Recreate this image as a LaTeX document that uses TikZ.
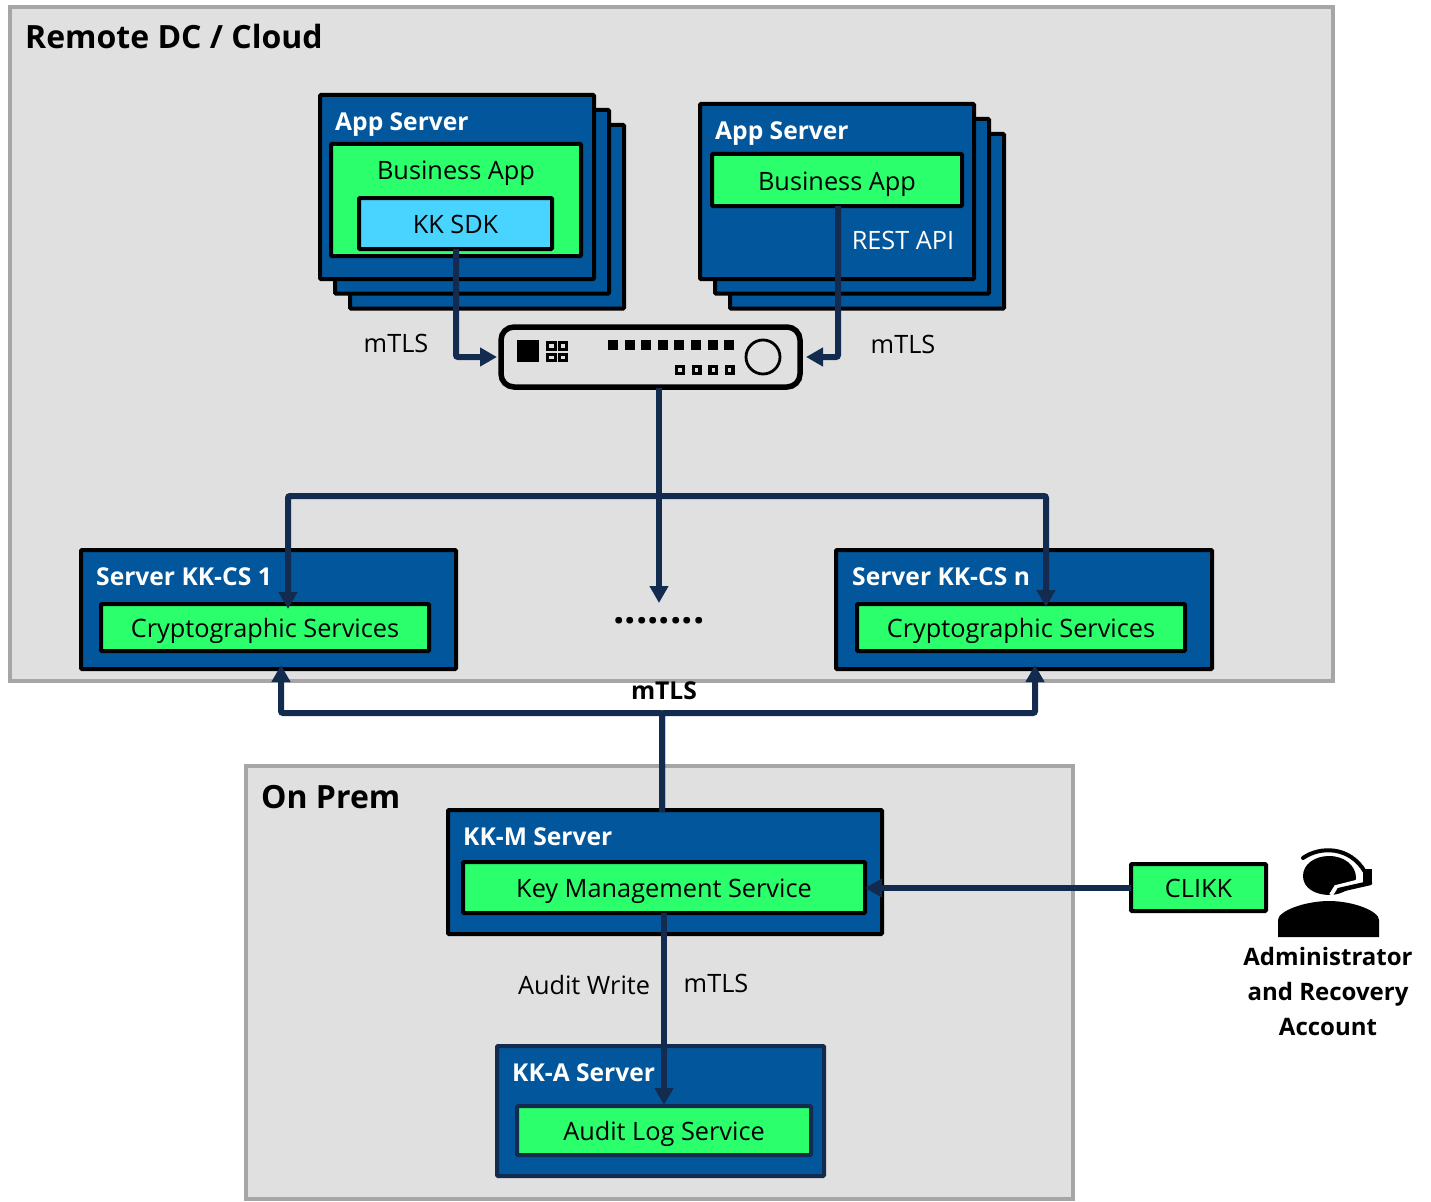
\documentclass[tikz,border=0pt]{standalone}
\usepackage{fontspec}
\setmainfont{Open Sans}
\usetikzlibrary{arrows.meta}
\definecolor{panel}{HTML}{E0E0E0}
\definecolor{panelb}{HTML}{A6A6A6}
\definecolor{srvblue}{HTML}{02569B}
\definecolor{appgreen}{HTML}{2BFF6C}
\definecolor{sdkblue}{HTML}{48D4FF}
\definecolor{navy}{HTML}{132B4E}
\newcommand{\fs}[1]{\fontsize{#1}{#1}\selectfont}
\newcommand{\bx}[7]{%
  \pgfmathsetmacro\cxx{(#3+#5)/2}\pgfmathsetmacro\cyy{(#4+#6)/2}%
  \pgfmathsetmacro\wdd{#5-#3}\pgfmathsetmacro\htt{#6-#4}%
  \node[#2,minimum width=\wdd pt,minimum height=\htt pt] (#1) at (\cxx,\cyy) {#7};}
\tikzset{
  x=1pt,y=-1pt,
  base/.style={inner sep=0pt,outer sep=0pt,rectangle,rounded corners=1pt,line width=4pt,draw=black},
  panelbox/.style={base,draw=panelb,fill=panel,line width=3.5pt,rounded corners=0pt},
  srv/.style={base,fill=srvblue},
  boxtext/.style={font=\fs{25.3},text height=20pt,text depth=0pt},
  app/.style={base,fill=appgreen,boxtext},
  sdk/.style={base,fill=sdkblue,boxtext},
  hdr/.style={anchor=base west,inner sep=0pt,text=white,font=\fs{24.6}\bfseries},
  title/.style={anchor=base west,inner sep=0pt,font=\fs{32}\bfseries},
  lbl/.style={anchor=base,inner sep=0pt,font=\fs{25.3}},
  wire/.style={draw=navy,line width=6pt,rounded corners=2pt},
  arrow/.style={wire,-{Triangle[length=17pt,width=18pt]}},
}
\begin{document}
\begin{tikzpicture}
\useasboundingbox (0,0) rectangle (1431,1201);
\bx{remote}{panelbox}{10}{7}{1333}{681}{}
\bx{onprem}{panelbox}{246}{766}{1073}{1199}{}
\node[title] (remotet) at (25,49) {Remote DC / Cloud};
\node[title] (onpremt) at (261,808) {On Prem};
% app server 1
\bx{asA3}{srv}{350}{125}{624}{308.5}{}
\bx{asA2}{srv}{335}{110}{609}{293.5}{}
\bx{asA1}{srv}{320}{95}{594}{279}{}
\node[hdr] (asAt) at (335,131) {App Server};
\bx{baA}{base,fill=appgreen}{331}{144}{581}{256}{}
\node[lbl] (baAt) at (456,179) {Business App};
\bx{sdkA}{sdk}{359}{198}{552}{249}{KK SDK}
% app server 2
\bx{asB3}{srv}{730}{134}{1004}{308.5}{}
\bx{asB2}{srv}{715}{119}{989}{293.5}{}
\bx{asB1}{srv}{700}{104}{974}{279}{}
\node[hdr] (asBt) at (715,140) {App Server};
\bx{baB}{app}{712}{154}{962}{206}{Business App}
\node[lbl,text=white] (rest) at (903,249) {REST API};
% hub
\bx{hub}{base,fill=panel,rounded corners=13pt,line width=5.5pt}{501}{327}{800}{387}{}
\fill (517,340) rectangle (539,362);
\foreach \x in {546,557.5}\foreach \y in {341,352.5}
  \draw[line width=3pt] (\x+1.5,\y+1.5) rectangle (\x+9,\y+8);
\foreach \i in {0,...,7} \fill (608+16.6*\i,340) rectangle ++(10,10);
\foreach \i in {0,...,3} \draw[line width=3.4pt] (676.7+16.6*\i,366.7) rectangle ++(6.6,6.6);
\draw[line width=2.8pt] (763,357) circle (17);
% CS servers
\bx{csA}{srv}{81}{550}{456}{669}{}
\node[hdr] (csAt) at (96,585) {Server KK-CS 1};
\bx{cryA}{app}{101}{604}{429}{651}{Cryptographic Services}
\bx{csB}{srv}{836}{550}{1212}{669}{}
\node[hdr] (csBt) at (852,585) {Server KK-CS n};
\bx{cryB}{app}{857}{604}{1185}{651}{Cryptographic Services}
\node[inner sep=0pt,anchor=base,font=\fs{40}\bfseries] (dots) at (659,623) {........};
% on prem servers
\bx{kkm}{srv}{448}{810}{882}{934}{}
\node[hdr] (kkmt) at (463,845) {KK-M Server};
\bx{kms}{app}{463}{862}{865}{913}{Key Management Service}
\bx{kka}{base,fill=srvblue,draw=navy}{497}{1046}{824}{1176}{}
\node[hdr] (kkat) at (512,1081) {KK-A Server};
\bx{als}{base,fill=appgreen,draw=navy,boxtext}{517}{1106}{811}{1155}{Audit Log Service}
\bx{clikk}{app}{1131}{864}{1266}{911}{CLIKK}
% labels
\node[lbl] (m1) at (396,352) {mTLS};
\node[lbl] (m2) at (903,353) {mTLS};
\node[lbl,font=\fs{24.6}\bfseries] (m3) at (664,699) {mTLS};
\node[lbl] (aw) at (584,994) {Audit Write};
\node[lbl] (m4) at (716,992) {mTLS};
\node[inner sep=0pt,align=center,font=\fs{24}\bfseries,anchor=north] (admin) at (1328,947) {Administrator\\[11pt]and Recovery\\[11pt]Account};
% person
\fill (1278,937) -- (1278,920) .. controls (1278,911) and (1305,901) .. (1329,901)
  .. controls (1353,901) and (1379,911) .. (1379,920) -- (1379,937) -- cycle;
\fill (1303,876) .. controls (1303,864) and (1315,856) .. (1329,856)
  .. controls (1345,856) and (1356,866) .. (1356,878)
  .. controls (1356,888) and (1340,895) .. (1330,895)
  .. controls (1315,895) and (1303,888) .. (1303,876) -- cycle;
\draw[white,line width=4pt] (1331,895) -- (1336,887) -- (1360,881);
\draw[line width=4pt,line cap=round] (1303,858) .. controls (1320,846) and (1350,846) .. (1365,872);
\fill (1363,869) rectangle (1372,884);
\draw[line width=4.5pt,line cap=round] (1370,883) -- (1339,890);
% connectors
\coordinate (sdkOut) at (456,249);
\coordinate (hubW) at (497,357);
\coordinate (baOut) at (838,206);
\coordinate (hubE) at (806,357);
\coordinate (hubS) at (659,388);
\coordinate (hubBr) at (659,496);
\coordinate (dotsN) at (659,603);
\coordinate (cryAN) at (288,609);
\coordinate (cryBN) at (1046,607);
\coordinate (kkmN) at (662,812);
\coordinate (busJ) at (662,713);
\coordinate (csAS) at (281,665);
\coordinate (csBS) at (1035,665);
\coordinate (clikkW) at (1131,888);
\coordinate (kmsE) at (865,888);
\coordinate (kmsS) at (664,913);
\coordinate (alsN) at (664,1105);
\draw[arrow] (sdkOut) |- (hubW);
\draw[arrow] (baOut) |- (hubE);
\draw[arrow] (hubS) -- (dotsN);
\draw[arrow] (hubBr) -| (cryAN);
\draw[arrow] (hubBr) -| (cryBN);
\draw[arrow] (kkmN) -- (busJ) -| (csAS);
\draw[arrow] (kkmN) -- (busJ) -| (csBS);
\draw[arrow] (clikkW) -- (kmsE);
\draw[arrow] (kmsS) -- (alsN);
\end{tikzpicture}
\end{document}
